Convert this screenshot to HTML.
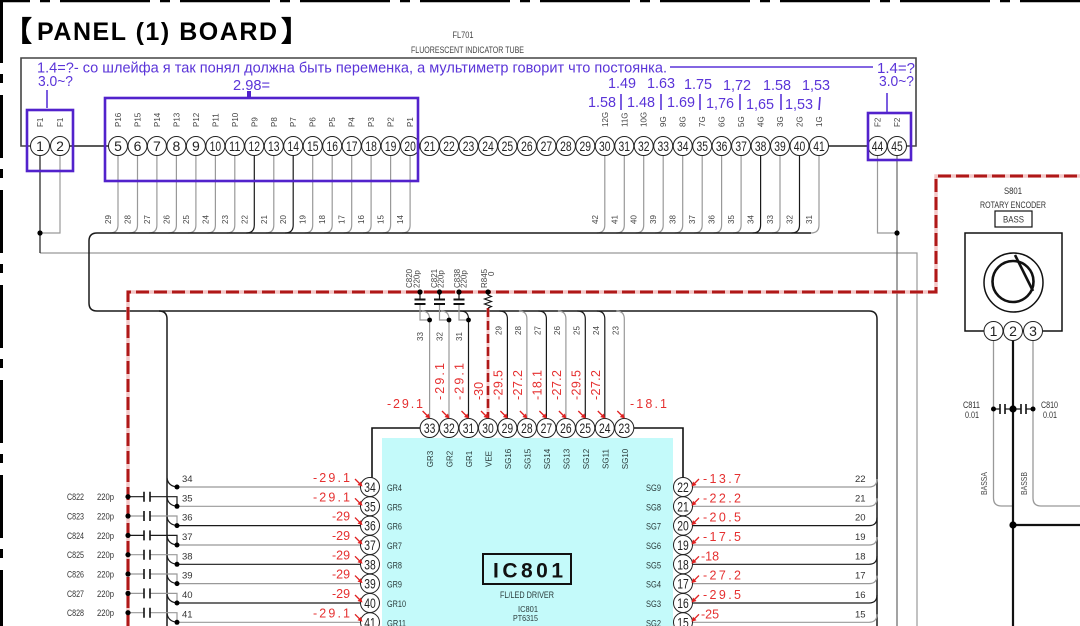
<!DOCTYPE html>
<html><head><meta charset="utf-8">
<style>
html,body{margin:0;padding:0;background:#fff;width:1080px;height:626px;overflow:hidden}
svg{display:block}
text{font-family:"Liberation Sans","DejaVu Sans",sans-serif}
.pn{font-size:14px;text-anchor:middle;fill:#222}
.lb{font-size:8px;fill:#444}
.lb9{font-size:9.5px;fill:#333}
.rd{font-family:"Liberation Mono","DejaVu Sans Mono",monospace;font-size:12.5px;fill:#e53030}
.pu{fill:#5a34d8;font-size:15px}
</style></head><body>
<svg width="1080" height="626" viewBox="0 0 1080 626" xmlns="http://www.w3.org/2000/svg">
<defs>
<g id="ar"><line x1="0" y1="0" x2="4.5" y2="4.5" stroke="#e02020" stroke-width="1.3"/><polygon points="7.5,7.5 2.5,6 6,2.5" fill="#e02020"/></g>
</defs>
<rect width="1080" height="626" fill="#fff"/>

<!-- borders -->
<line x1="1.5" y1="0" x2="1.5" y2="626" stroke="#000" stroke-width="3" stroke-dasharray="63 11 9 12"/>
<line x1="0" y1="1" x2="1080" y2="1" stroke="#000" stroke-width="2.5" stroke-dasharray="90 10 10 10" stroke-dashoffset="-60"/>

<!-- title -->
<text x="4" y="41" font-family="'Liberation Sans','Noto Sans CJK JP',sans-serif" font-size="28" font-weight="bold">【</text>
<text x="37" y="40" font-size="25" font-weight="bold" textLength="240" lengthAdjust="spacing">PANEL (1) BOARD</text>
<text x="281" y="41" font-family="'Liberation Sans','Noto Sans CJK JP',sans-serif" font-size="28" font-weight="bold">】</text>

<text x="463" y="38" font-size="9" fill="#444" text-anchor="middle" textLength="21" lengthAdjust="spacingAndGlyphs">FL701</text>
<text x="411" y="53" font-size="9" fill="#444" textLength="113" lengthAdjust="spacingAndGlyphs">FLUORESCENT INDICATOR TUBE</text>

<!-- tube box -->
<path d="M30.5 146 H21 V58 H916 V146 H906.5" fill="none" stroke="#444" stroke-width="1.6"/>
<line x1="69.5" y1="146" x2="108.5" y2="146" stroke="#222" stroke-width="1.4"/>
<line x1="828.5" y1="146" x2="868" y2="146" stroke="#222" stroke-width="1.4"/>

<!-- tube wires -->
<g fill="none" stroke="#999" stroke-width="1.2">
<path d="M118 155.5V225Q118 233 110 233"/>
<path d="M137.5 155.5V225Q137.5 233 129.5 233"/>
<path d="M156.9 155.5V225Q156.9 233 148.9 233"/>
<path d="M176.4 155.5V225Q176.4 233 168.4 233"/>
<path d="M195.9 155.5V225Q195.9 233 187.9 233"/>
<path d="M215.4 155.5V225Q215.4 233 207.4 233"/>
<path d="M234.8 155.5V225Q234.8 233 226.8 233"/>
<path d="M273.8 155.5V225Q273.8 233 265.8 233"/>
<path d="M312.7 155.5V225Q312.7 233 304.7 233"/>
<path d="M332.2 155.5V225Q332.2 233 324.2 233"/>
<path d="M351.7 155.5V225Q351.7 233 343.7 233"/>
<path d="M371.1 155.5V225Q371.1 233 363.1 233"/>
<path d="M390.6 155.5V225Q390.6 233 382.6 233"/>
<path d="M410.1 155.5V225Q410.1 233 402.1 233"/>
<path d="M604.8 155.5V225Q604.8 233 596.8 233"/>
<path d="M624.3 155.5V225Q624.3 233 616.3 233"/>
<path d="M643.7 155.5V225Q643.7 233 635.7 233"/>
<path d="M663.2 155.5V225Q663.2 233 655.2 233"/>
<path d="M682.7 155.5V225Q682.7 233 674.7 233"/>
<path d="M702.2 155.5V225Q702.2 233 694.2 233"/>
<path d="M721.6 155.5V225Q721.6 233 713.6 233"/>
<path d="M741.1 155.5V225Q741.1 233 733.1 233"/>
<path d="M780 155.5V225Q780 233 772 233"/>
<path d="M819 155.5V225Q819 233 811 233"/>
<path d="M60 155.5V233H40"/>
<path d="M40 253H917V626"/>
<path d="M877.5 155.5V233H897"/>
</g>
<g fill="none" stroke="#1a1a1a" stroke-width="1.2">
<path d="M254.3 155.5V225Q254.3 233 246.3 233"/>
<path d="M293.2 155.5V225Q293.2 233 285.2 233"/>
<path d="M760.6 155.5V225Q760.6 233 752.6 233"/>
<path d="M799.5 155.5V225Q799.5 233 791.5 233"/>
<path d="M40 155.5V253"/>
</g>
<line x1="897" y1="155.5" x2="897" y2="626" stroke="#666" stroke-width="1.2"/>
<!-- bus -->
<path d="M811 233H97Q89 233 89 241V303Q89 311 97 311H869Q877 311 877 319V626" fill="none" stroke="#1a1a1a" stroke-width="1.5"/>
<path d="M159 311Q167 311 167 319V626" fill="none" stroke="#1a1a1a" stroke-width="1.5"/>
<circle cx="40" cy="233" r="2.6" fill="#000"/>
<circle cx="897" cy="233" r="2.6" fill="#000"/>

<!-- wire labels under tube -->
<g class="lb">
<text transform="translate(111,224) rotate(-90)">29</text>
<text transform="translate(130.5,224) rotate(-90)">28</text>
<text transform="translate(149.9,224) rotate(-90)">27</text>
<text transform="translate(169.4,224) rotate(-90)">26</text>
<text transform="translate(188.9,224) rotate(-90)">25</text>
<text transform="translate(208.4,224) rotate(-90)">24</text>
<text transform="translate(227.8,224) rotate(-90)">23</text>
<text transform="translate(247.3,224) rotate(-90)">22</text>
<text transform="translate(266.8,224) rotate(-90)">21</text>
<text transform="translate(286.2,224) rotate(-90)">20</text>
<text transform="translate(305.7,224) rotate(-90)">19</text>
<text transform="translate(325.2,224) rotate(-90)">18</text>
<text transform="translate(344.7,224) rotate(-90)">17</text>
<text transform="translate(364.1,224) rotate(-90)">16</text>
<text transform="translate(383.6,224) rotate(-90)">15</text>
<text transform="translate(403.1,224) rotate(-90)">14</text>
<text transform="translate(597.8,224) rotate(-90)">42</text>
<text transform="translate(617.3,224) rotate(-90)">41</text>
<text transform="translate(636.7,224) rotate(-90)">40</text>
<text transform="translate(656.2,224) rotate(-90)">39</text>
<text transform="translate(675.7,224) rotate(-90)">38</text>
<text transform="translate(695.2,224) rotate(-90)">37</text>
<text transform="translate(714.6,224) rotate(-90)">36</text>
<text transform="translate(734.1,224) rotate(-90)">35</text>
<text transform="translate(753.6,224) rotate(-90)">34</text>
<text transform="translate(773,224) rotate(-90)">33</text>
<text transform="translate(792.5,224) rotate(-90)">32</text>
<text transform="translate(812,224) rotate(-90)">31</text>
</g>

<!-- tube pin labels -->
<g class="lb">
<text transform="translate(43,127) rotate(-90)">F1</text>
<text transform="translate(63,127) rotate(-90)">F1</text>
<text transform="translate(121,127) rotate(-90)">P16</text>
<text transform="translate(140.5,127) rotate(-90)">P15</text>
<text transform="translate(159.9,127) rotate(-90)">P14</text>
<text transform="translate(179.4,127) rotate(-90)">P13</text>
<text transform="translate(198.9,127) rotate(-90)">P12</text>
<text transform="translate(218.4,127) rotate(-90)">P11</text>
<text transform="translate(237.8,127) rotate(-90)">P10</text>
<text transform="translate(257.3,127) rotate(-90)">P9</text>
<text transform="translate(276.8,127) rotate(-90)">P8</text>
<text transform="translate(296.2,127) rotate(-90)">P7</text>
<text transform="translate(315.7,127) rotate(-90)">P6</text>
<text transform="translate(335.2,127) rotate(-90)">P5</text>
<text transform="translate(354.7,127) rotate(-90)">P4</text>
<text transform="translate(374.1,127) rotate(-90)">P3</text>
<text transform="translate(393.6,127) rotate(-90)">P2</text>
<text transform="translate(413.1,127) rotate(-90)">P1</text>
<text transform="translate(607.8,127) rotate(-90)">12G</text>
<text transform="translate(627.3,127) rotate(-90)">11G</text>
<text transform="translate(646.7,127) rotate(-90)">10G</text>
<text transform="translate(666.2,127) rotate(-90)">9G</text>
<text transform="translate(685.7,127) rotate(-90)">8G</text>
<text transform="translate(705.2,127) rotate(-90)">7G</text>
<text transform="translate(724.6,127) rotate(-90)">6G</text>
<text transform="translate(744.1,127) rotate(-90)">5G</text>
<text transform="translate(763.6,127) rotate(-90)">4G</text>
<text transform="translate(783,127) rotate(-90)">3G</text>
<text transform="translate(802.5,127) rotate(-90)">2G</text>
<text transform="translate(822,127) rotate(-90)">1G</text>
<text transform="translate(880.5,127) rotate(-90)">F2</text>
<text transform="translate(900,127) rotate(-90)">F2</text>
</g>

<!-- tube pins -->
<g fill="#fff" stroke="#222" stroke-width="1">
<circle cx="40" cy="146" r="9.5"/><circle cx="60" cy="146" r="9.5"/>
<circle cx="118" cy="146" r="9.5"/><circle cx="137.5" cy="146" r="9.5"/><circle cx="156.9" cy="146" r="9.5"/><circle cx="176.4" cy="146" r="9.5"/><circle cx="195.9" cy="146" r="9.5"/><circle cx="215.4" cy="146" r="9.5"/><circle cx="234.8" cy="146" r="9.5"/><circle cx="254.3" cy="146" r="9.5"/><circle cx="273.8" cy="146" r="9.5"/><circle cx="293.2" cy="146" r="9.5"/><circle cx="312.7" cy="146" r="9.5"/><circle cx="332.2" cy="146" r="9.5"/><circle cx="351.7" cy="146" r="9.5"/><circle cx="371.1" cy="146" r="9.5"/><circle cx="390.6" cy="146" r="9.5"/><circle cx="410.1" cy="146" r="9.5"/>
<circle cx="429.6" cy="146" r="9.5"/><circle cx="449" cy="146" r="9.5"/><circle cx="468.5" cy="146" r="9.5"/><circle cx="488" cy="146" r="9.5"/><circle cx="507.4" cy="146" r="9.5"/><circle cx="526.9" cy="146" r="9.5"/><circle cx="546.4" cy="146" r="9.5"/><circle cx="565.9" cy="146" r="9.5"/><circle cx="585.3" cy="146" r="9.5"/>
<circle cx="604.8" cy="146" r="9.5"/><circle cx="624.3" cy="146" r="9.5"/><circle cx="643.7" cy="146" r="9.5"/><circle cx="663.2" cy="146" r="9.5"/><circle cx="682.7" cy="146" r="9.5"/><circle cx="702.2" cy="146" r="9.5"/><circle cx="721.6" cy="146" r="9.5"/><circle cx="741.1" cy="146" r="9.5"/><circle cx="760.6" cy="146" r="9.5"/><circle cx="780" cy="146" r="9.5"/><circle cx="799.5" cy="146" r="9.5"/><circle cx="819" cy="146" r="9.5"/>
<circle cx="877.5" cy="146" r="9.5"/><circle cx="897" cy="146" r="9.5"/>
</g>
<g class="pn">
<text x="40" y="151">1</text><text x="60" y="151">2</text>
<text x="118" y="151">5</text><text x="137.5" y="151">6</text><text x="156.9" y="151">7</text><text x="176.4" y="151">8</text><text x="195.9" y="151">9</text>
<text x="215.4" y="151" textLength="11.5" lengthAdjust="spacingAndGlyphs">10</text>
<text x="234.8" y="151" textLength="11.5" lengthAdjust="spacingAndGlyphs">11</text>
<text x="254.3" y="151" textLength="11.5" lengthAdjust="spacingAndGlyphs">12</text>
<text x="273.8" y="151" textLength="11.5" lengthAdjust="spacingAndGlyphs">13</text>
<text x="293.2" y="151" textLength="11.5" lengthAdjust="spacingAndGlyphs">14</text>
<text x="312.7" y="151" textLength="11.5" lengthAdjust="spacingAndGlyphs">15</text>
<text x="332.2" y="151" textLength="11.5" lengthAdjust="spacingAndGlyphs">16</text>
<text x="351.7" y="151" textLength="11.5" lengthAdjust="spacingAndGlyphs">17</text>
<text x="371.1" y="151" textLength="11.5" lengthAdjust="spacingAndGlyphs">18</text>
<text x="390.6" y="151" textLength="11.5" lengthAdjust="spacingAndGlyphs">19</text>
<text x="410.1" y="151" textLength="11.5" lengthAdjust="spacingAndGlyphs">20</text>
<text x="429.6" y="151" textLength="11.5" lengthAdjust="spacingAndGlyphs">21</text>
<text x="449" y="151" textLength="11.5" lengthAdjust="spacingAndGlyphs">22</text>
<text x="468.5" y="151" textLength="11.5" lengthAdjust="spacingAndGlyphs">23</text>
<text x="488" y="151" textLength="11.5" lengthAdjust="spacingAndGlyphs">24</text>
<text x="507.4" y="151" textLength="11.5" lengthAdjust="spacingAndGlyphs">25</text>
<text x="526.9" y="151" textLength="11.5" lengthAdjust="spacingAndGlyphs">26</text>
<text x="546.4" y="151" textLength="11.5" lengthAdjust="spacingAndGlyphs">27</text>
<text x="565.9" y="151" textLength="11.5" lengthAdjust="spacingAndGlyphs">28</text>
<text x="585.3" y="151" textLength="11.5" lengthAdjust="spacingAndGlyphs">29</text>
<text x="604.8" y="151" textLength="11.5" lengthAdjust="spacingAndGlyphs">30</text>
<text x="624.3" y="151" textLength="11.5" lengthAdjust="spacingAndGlyphs">31</text>
<text x="643.7" y="151" textLength="11.5" lengthAdjust="spacingAndGlyphs">32</text>
<text x="663.2" y="151" textLength="11.5" lengthAdjust="spacingAndGlyphs">33</text>
<text x="682.7" y="151" textLength="11.5" lengthAdjust="spacingAndGlyphs">34</text>
<text x="702.2" y="151" textLength="11.5" lengthAdjust="spacingAndGlyphs">35</text>
<text x="721.6" y="151" textLength="11.5" lengthAdjust="spacingAndGlyphs">36</text>
<text x="741.1" y="151" textLength="11.5" lengthAdjust="spacingAndGlyphs">37</text>
<text x="760.6" y="151" textLength="11.5" lengthAdjust="spacingAndGlyphs">38</text>
<text x="780" y="151" textLength="11.5" lengthAdjust="spacingAndGlyphs">39</text>
<text x="799.5" y="151" textLength="11.5" lengthAdjust="spacingAndGlyphs">40</text>
<text x="819" y="151" textLength="11.5" lengthAdjust="spacingAndGlyphs">41</text>
<text x="877.5" y="151" textLength="11.5" lengthAdjust="spacingAndGlyphs">44</text>
<text x="897" y="151" textLength="11.5" lengthAdjust="spacingAndGlyphs">45</text>
</g>

<!-- red dashed line -->
<path d="M128 626V292H936V176H1080" fill="none" stroke="#f4c8c8" stroke-width="3.5"/>
<path d="M128 626V292H936V176H1080" fill="none" stroke="#b01818" stroke-width="3" stroke-dasharray="13 5"/>
<path d="M488 308V418.5" fill="none" stroke="#f4c8c8" stroke-width="3"/>
<path d="M488 308V418.5" fill="none" stroke="#b01818" stroke-width="2.6" stroke-dasharray="9 4"/>

<!-- IC body -->
<rect x="382" y="438" width="291" height="200" fill="#c4fafa"/>
<path d="M372 477.5V428H420.1" fill="none" stroke="#111" stroke-width="1.6"/>
<path d="M633.8 428H683V477.5" fill="none" stroke="#111" stroke-width="1.6"/>

<!-- IC top wires -->
<g fill="none" stroke="#999" stroke-width="1.2">
<path d="M421.6 311Q429.6 311 429.6 319V418.5"/>
<path d="M441 311Q449 311 449 319V418.5"/>
<path d="M518.9 311Q526.9 311 526.9 319V418.5"/>
<path d="M557.9 311Q565.9 311 565.9 319V418.5"/>
<path d="M616.3 311Q624.3 311 624.3 319V418.5"/>
<path d="M420 304.5V320H429.6"/>
<path d="M439.5 304.5V320H449"/>
<path d="M459 304.5V320H468.5"/>
</g>
<g fill="none" stroke="#1a1a1a" stroke-width="1.2">
<path d="M460.5 311Q468.5 311 468.5 319V418.5"/>
<path d="M499.4 311Q507.4 311 507.4 319V418.5"/>
<path d="M538.4 311Q546.4 311 546.4 319V418.5"/>
<path d="M577.3 311Q585.3 311 585.3 319V418.5"/>
<path d="M596.8 311Q604.8 311 604.8 319V418.5"/>
</g>
<!-- top caps -->
<g stroke="#111" stroke-width="1.2">
<line x1="420" y1="292" x2="420" y2="299"/><line x1="439.5" y1="292" x2="439.5" y2="299"/><line x1="459" y1="292" x2="459" y2="299"/>
</g>
<g stroke="#111" stroke-width="2">
<line x1="414.5" y1="299.5" x2="425.5" y2="299.5"/><line x1="414.5" y1="304" x2="425.5" y2="304"/>
<line x1="434" y1="299.5" x2="445" y2="299.5"/><line x1="434" y1="304" x2="445" y2="304"/>
<line x1="453.5" y1="299.5" x2="464.5" y2="299.5"/><line x1="453.5" y1="304" x2="464.5" y2="304"/>
</g>
<path d="M488 292V295L491.5 296.5L484.5 299L491.5 301.5L484.5 304L491.5 306.5L488 308" fill="none" stroke="#111" stroke-width="1.1"/>
<g fill="#000">
<circle cx="420" cy="292" r="2.6"/><circle cx="439.5" cy="292" r="2.6"/><circle cx="459" cy="292" r="2.6"/><circle cx="488" cy="292" r="2.6"/>
<circle cx="429.6" cy="320" r="2.4"/><circle cx="449" cy="320" r="2.4"/><circle cx="468.5" cy="320" r="2.4"/>
</g>
<g class="lb">
<text transform="translate(412,288) rotate(-90)">C820</text>
<text transform="translate(419.5,288) rotate(-90)">220p</text>
<text transform="translate(437,288) rotate(-90)">C821</text>
<text transform="translate(443.5,288) rotate(-90)">220p</text>
<text transform="translate(460,288) rotate(-90)">C838</text>
<text transform="translate(466.5,288) rotate(-90)">220p</text>
<text transform="translate(487,288) rotate(-90)">R845</text>
<text transform="translate(494,276) rotate(-90)">0</text>
<text transform="translate(423,341) rotate(-90)">33</text>
<text transform="translate(442.5,341) rotate(-90)">32</text>
<text transform="translate(462,341) rotate(-90)">31</text>
<text transform="translate(501.4,335) rotate(-90)">29</text>
<text transform="translate(520.9,335) rotate(-90)">28</text>
<text transform="translate(540.4,335) rotate(-90)">27</text>
<text transform="translate(559.9,335) rotate(-90)">26</text>
<text transform="translate(579.3,335) rotate(-90)">25</text>
<text transform="translate(598.8,335) rotate(-90)">24</text>
<text transform="translate(618.3,335) rotate(-90)">23</text>
</g>

<!-- left IC wires & caps -->
<g fill="none" stroke="#999" stroke-width="1.2">
<path d="M177 487H360.5"/><path d="M177 506.3H360.5"/><path d="M177 545H360.5"/><path d="M177 583.6H360.5"/><path d="M177 622.3H360.5"/>
<path d="M128 516H144M150 516H177V525.6"/>
<path d="M128 554.7H144M150 554.7H177V564.3"/>
<path d="M128 574H144M150 574H177V583.6"/>
<path d="M128 593.4H144M150 593.4H177V603"/>
<path d="M128 612.7H144M150 612.7H177V622.3"/>
</g>
<g fill="none" stroke="#1a1a1a" stroke-width="1.2">
<path d="M177 525.6H360.5"/><path d="M177 564.3H360.5"/><path d="M177 603H360.5"/>
<path d="M128 496.7H144M150 496.7H177V506.3"/>
<path d="M128 535.4H144M150 535.4H177V545"/>
<path d="M167 478Q168 486 177 487"/><path d="M167 497.3Q168 505.3 177 506.3"/><path d="M167 516.6Q168 524.6 177 525.6"/><path d="M167 536Q168 544 177 545"/><path d="M167 555.3Q168 563.3 177 564.3"/><path d="M167 574.6Q168 582.6 177 583.6"/><path d="M167 594Q168 602 177 603"/><path d="M167 613.3Q168 621.3 177 622.3"/>
</g>
<g stroke="#111" stroke-width="1.6">
<path d="M144 491.7V501.7M150 491.7V501.7"/>
<path d="M144 511V521M150 511V521"/>
<path d="M144 530.4V540.4M150 530.4V540.4"/>
<path d="M144 549.7V559.7M150 549.7V559.7"/>
<path d="M144 569V579M150 569V579"/>
<path d="M144 588.4V598.4M150 588.4V598.4"/>
<path d="M144 607.7V617.7M150 607.7V617.7"/>
</g>
<g fill="#000">
<circle cx="177" cy="487" r="2.5"/><circle cx="177" cy="506.3" r="2.5"/><circle cx="177" cy="525.6" r="2.5"/><circle cx="177" cy="545" r="2.5"/><circle cx="177" cy="564.3" r="2.5"/><circle cx="177" cy="583.6" r="2.5"/><circle cx="177" cy="603" r="2.5"/><circle cx="177" cy="622.3" r="2.5"/>
<circle cx="128" cy="496.7" r="2.6"/><circle cx="128" cy="516" r="2.6"/><circle cx="128" cy="535.4" r="2.6"/><circle cx="128" cy="554.7" r="2.6"/><circle cx="128" cy="574" r="2.6"/><circle cx="128" cy="593.4" r="2.6"/><circle cx="128" cy="612.7" r="2.6"/>
</g>
<g class="lb9">
<text x="182" y="482">34</text><text x="182" y="501.3">35</text><text x="182" y="520.6">36</text><text x="182" y="540">37</text><text x="182" y="559.3">38</text><text x="182" y="578.6">39</text><text x="182" y="598">40</text><text x="182" y="617.3">41</text>
<text x="67" y="500.2" textLength="17" lengthAdjust="spacingAndGlyphs">C822</text><text x="97" y="500.2" textLength="17" lengthAdjust="spacingAndGlyphs">220p</text>
<text x="67" y="519.5" textLength="17" lengthAdjust="spacingAndGlyphs">C823</text><text x="97" y="519.5" textLength="17" lengthAdjust="spacingAndGlyphs">220p</text>
<text x="67" y="538.9" textLength="17" lengthAdjust="spacingAndGlyphs">C824</text><text x="97" y="538.9" textLength="17" lengthAdjust="spacingAndGlyphs">220p</text>
<text x="67" y="558.2" textLength="17" lengthAdjust="spacingAndGlyphs">C825</text><text x="97" y="558.2" textLength="17" lengthAdjust="spacingAndGlyphs">220p</text>
<text x="67" y="577.5" textLength="17" lengthAdjust="spacingAndGlyphs">C826</text><text x="97" y="577.5" textLength="17" lengthAdjust="spacingAndGlyphs">220p</text>
<text x="67" y="596.9" textLength="17" lengthAdjust="spacingAndGlyphs">C827</text><text x="97" y="596.9" textLength="17" lengthAdjust="spacingAndGlyphs">220p</text>
<text x="67" y="616.2" textLength="17" lengthAdjust="spacingAndGlyphs">C828</text><text x="97" y="616.2" textLength="17" lengthAdjust="spacingAndGlyphs">220p</text>
</g>

<!-- right IC wires -->
<g fill="none" stroke="#999" stroke-width="1.2">
<path d="M692.5 487H869Q877 487 877 479"/><path d="M692.5 506.3H869Q877 506.3 877 498.3"/><path d="M692.5 545H869Q877 545 877 537"/><path d="M692.5 583.6H869Q877 583.6 877 575.6"/><path d="M692.5 622.3H869Q877 622.3 877 614.3"/>
</g>
<g fill="none" stroke="#1a1a1a" stroke-width="1.2">
<path d="M692.5 525.6H869Q877 525.6 877 517.6"/><path d="M692.5 564.3H869Q877 564.3 877 556.3"/><path d="M692.5 603H869Q877 603 877 595"/>
</g>
<g class="lb9">
<text x="855" y="482">22</text><text x="855" y="501.3">21</text><text x="855" y="520.6">20</text><text x="855" y="540">19</text><text x="855" y="559.3">18</text><text x="855" y="578.6">17</text><text x="855" y="598">16</text><text x="855" y="617.3">15</text>
</g>

<!-- IC pins -->
<g fill="#fff" stroke="#222" stroke-width="1">
<circle cx="429.6" cy="428" r="9.5"/><circle cx="449" cy="428" r="9.5"/><circle cx="468.5" cy="428" r="9.5"/><circle cx="488" cy="428" r="9.5"/><circle cx="507.4" cy="428" r="9.5"/><circle cx="526.9" cy="428" r="9.5"/><circle cx="546.4" cy="428" r="9.5"/><circle cx="565.9" cy="428" r="9.5"/><circle cx="585.3" cy="428" r="9.5"/><circle cx="604.8" cy="428" r="9.5"/><circle cx="624.3" cy="428" r="9.5"/>
<circle cx="370" cy="487" r="9.5"/><circle cx="370" cy="506.3" r="9.5"/><circle cx="370" cy="525.6" r="9.5"/><circle cx="370" cy="545" r="9.5"/><circle cx="370" cy="564.3" r="9.5"/><circle cx="370" cy="583.6" r="9.5"/><circle cx="370" cy="603" r="9.5"/><circle cx="370" cy="622.3" r="9.5"/>
<circle cx="683" cy="487" r="9.5"/><circle cx="683" cy="506.3" r="9.5"/><circle cx="683" cy="525.6" r="9.5"/><circle cx="683" cy="545" r="9.5"/><circle cx="683" cy="564.3" r="9.5"/><circle cx="683" cy="583.6" r="9.5"/><circle cx="683" cy="603" r="9.5"/><circle cx="683" cy="622.3" r="9.5"/>
</g>
<g class="pn">
<text x="429.6" y="433" textLength="11.5" lengthAdjust="spacingAndGlyphs">33</text>
<text x="449" y="433" textLength="11.5" lengthAdjust="spacingAndGlyphs">32</text>
<text x="468.5" y="433" textLength="11.5" lengthAdjust="spacingAndGlyphs">31</text>
<text x="488" y="433" textLength="11.5" lengthAdjust="spacingAndGlyphs">30</text>
<text x="507.4" y="433" textLength="11.5" lengthAdjust="spacingAndGlyphs">29</text>
<text x="526.9" y="433" textLength="11.5" lengthAdjust="spacingAndGlyphs">28</text>
<text x="546.4" y="433" textLength="11.5" lengthAdjust="spacingAndGlyphs">27</text>
<text x="565.9" y="433" textLength="11.5" lengthAdjust="spacingAndGlyphs">26</text>
<text x="585.3" y="433" textLength="11.5" lengthAdjust="spacingAndGlyphs">25</text>
<text x="604.8" y="433" textLength="11.5" lengthAdjust="spacingAndGlyphs">24</text>
<text x="624.3" y="433" textLength="11.5" lengthAdjust="spacingAndGlyphs">23</text>
<text x="370" y="492" textLength="11.5" lengthAdjust="spacingAndGlyphs">34</text>
<text x="370" y="511.3" textLength="11.5" lengthAdjust="spacingAndGlyphs">35</text>
<text x="370" y="530.6" textLength="11.5" lengthAdjust="spacingAndGlyphs">36</text>
<text x="370" y="550" textLength="11.5" lengthAdjust="spacingAndGlyphs">37</text>
<text x="370" y="569.3" textLength="11.5" lengthAdjust="spacingAndGlyphs">38</text>
<text x="370" y="588.6" textLength="11.5" lengthAdjust="spacingAndGlyphs">39</text>
<text x="370" y="608" textLength="11.5" lengthAdjust="spacingAndGlyphs">40</text>
<text x="370" y="627.3" textLength="11.5" lengthAdjust="spacingAndGlyphs">41</text>
<text x="683" y="492" textLength="11.5" lengthAdjust="spacingAndGlyphs">22</text>
<text x="683" y="511.3" textLength="11.5" lengthAdjust="spacingAndGlyphs">21</text>
<text x="683" y="530.6" textLength="11.5" lengthAdjust="spacingAndGlyphs">20</text>
<text x="683" y="550" textLength="11.5" lengthAdjust="spacingAndGlyphs">19</text>
<text x="683" y="569.3" textLength="11.5" lengthAdjust="spacingAndGlyphs">18</text>
<text x="683" y="588.6" textLength="11.5" lengthAdjust="spacingAndGlyphs">17</text>
<text x="683" y="608" textLength="11.5" lengthAdjust="spacingAndGlyphs">16</text>
<text x="683" y="627.3" textLength="11.5" lengthAdjust="spacingAndGlyphs">15</text>
</g>

<!-- IC inner labels -->
<g font-size="9" fill="#2a3a3a">
<text x="387" y="491" textLength="15" lengthAdjust="spacingAndGlyphs">GR4</text>
<text x="387" y="510.3" textLength="15" lengthAdjust="spacingAndGlyphs">GR5</text>
<text x="387" y="529.6" textLength="15" lengthAdjust="spacingAndGlyphs">GR6</text>
<text x="387" y="549" textLength="15" lengthAdjust="spacingAndGlyphs">GR7</text>
<text x="387" y="568.3" textLength="15" lengthAdjust="spacingAndGlyphs">GR8</text>
<text x="387" y="587.6" textLength="15" lengthAdjust="spacingAndGlyphs">GR9</text>
<text x="387" y="607" textLength="19" lengthAdjust="spacingAndGlyphs">GR10</text>
<text x="387" y="626.3" textLength="19" lengthAdjust="spacingAndGlyphs">GR11</text>
<text x="646" y="491" textLength="15" lengthAdjust="spacingAndGlyphs">SG9</text>
<text x="646" y="510.3" textLength="15" lengthAdjust="spacingAndGlyphs">SG8</text>
<text x="646" y="529.6" textLength="15" lengthAdjust="spacingAndGlyphs">SG7</text>
<text x="646" y="549" textLength="15" lengthAdjust="spacingAndGlyphs">SG6</text>
<text x="646" y="568.3" textLength="15" lengthAdjust="spacingAndGlyphs">SG5</text>
<text x="646" y="587.6" textLength="15" lengthAdjust="spacingAndGlyphs">SG4</text>
<text x="646" y="607" textLength="15" lengthAdjust="spacingAndGlyphs">SG3</text>
<text x="646" y="626.3" textLength="15" lengthAdjust="spacingAndGlyphs">SG2</text>
</g>
<g font-size="8" fill="#2a3a3a" text-anchor="middle">
<text transform="translate(433.1,459) rotate(-90)">GR3</text>
<text transform="translate(452.5,459) rotate(-90)">GR2</text>
<text transform="translate(472,459) rotate(-90)">GR1</text>
<text transform="translate(491.5,459) rotate(-90)">VEE</text>
<text transform="translate(510.9,459) rotate(-90)">SG16</text>
<text transform="translate(530.4,459) rotate(-90)">SG15</text>
<text transform="translate(549.9,459) rotate(-90)">SG14</text>
<text transform="translate(569.4,459) rotate(-90)">SG13</text>
<text transform="translate(588.8,459) rotate(-90)">SG12</text>
<text transform="translate(608.3,459) rotate(-90)">SG11</text>
<text transform="translate(627.8,459) rotate(-90)">SG10</text>
</g>
<rect x="483" y="554" width="88" height="30" fill="none" stroke="#111" stroke-width="2"/>
<text x="493" y="577.5" font-size="21" font-weight="bold" fill="#111" textLength="70" lengthAdjust="spacing">IC801</text>
<text x="500" y="598" font-size="9" fill="#2a3a3a" textLength="54" lengthAdjust="spacingAndGlyphs">FL/LED DRIVER</text>
<text x="518" y="612" font-size="8.5" fill="#2a3a3a" textLength="20" lengthAdjust="spacingAndGlyphs">IC801</text>
<text x="513" y="621" font-size="8.5" fill="#2a3a3a" textLength="25" lengthAdjust="spacingAndGlyphs">PT6315</text>

<!-- red voltage labels -->
<g class="rd">
<text x="387" y="408" textLength="36" lengthAdjust="spacing">-29.1</text>
<text x="630" y="408" textLength="37" lengthAdjust="spacing">-18.1</text>
<text transform="translate(444,400) rotate(-90)" textLength="37" lengthAdjust="spacing">-29.1</text>
<text transform="translate(463.5,400) rotate(-90)" textLength="37" lengthAdjust="spacing">-29.1</text>
<text transform="translate(483,400) rotate(-90)">-30</text>
<text transform="translate(502.4,400) rotate(-90)" textLength="30" lengthAdjust="spacing">-29.5</text>
<text transform="translate(521.9,400) rotate(-90)" textLength="30" lengthAdjust="spacing">-27.2</text>
<text transform="translate(541.4,400) rotate(-90)" textLength="30" lengthAdjust="spacing">-18.1</text>
<text transform="translate(560.9,400) rotate(-90)" textLength="30" lengthAdjust="spacing">-27.2</text>
<text transform="translate(580.3,400) rotate(-90)" textLength="30" lengthAdjust="spacing">-29.5</text>
<text transform="translate(599.8,400) rotate(-90)" textLength="30" lengthAdjust="spacing">-27.2</text>
<text x="313" y="482" textLength="37" lengthAdjust="spacing">-29.1</text>
<text x="313" y="501.3" textLength="37" lengthAdjust="spacing">-29.1</text>
<text x="332" y="520.6">-29</text>
<text x="332" y="540">-29</text>
<text x="332" y="559.3">-29</text>
<text x="332" y="578.6">-29</text>
<text x="332" y="598">-29</text>
<text x="313" y="617.3" textLength="37" lengthAdjust="spacing">-29.1</text>
<text x="703" y="483" textLength="38" lengthAdjust="spacing">-13.7</text>
<text x="703" y="502.3" textLength="38" lengthAdjust="spacing">-22.2</text>
<text x="703" y="521.6" textLength="38" lengthAdjust="spacing">-20.5</text>
<text x="703" y="541" textLength="38" lengthAdjust="spacing">-17.5</text>
<text x="701" y="560.3">-18</text>
<text x="703" y="579.6" textLength="38" lengthAdjust="spacing">-27.2</text>
<text x="703" y="599" textLength="38" lengthAdjust="spacing">-29.5</text>
<text x="701" y="618.3">-25</text>
</g>
<!-- red arrows -->
<use href="#ar" x="422.6" y="411"/><use href="#ar" x="442" y="411"/><use href="#ar" x="461.5" y="411"/><use href="#ar" x="481" y="411"/><use href="#ar" x="500.4" y="411"/><use href="#ar" x="519.9" y="411"/><use href="#ar" x="539.4" y="411"/><use href="#ar" x="558.9" y="411"/><use href="#ar" x="578.3" y="411"/><use href="#ar" x="597.8" y="411"/><use href="#ar" x="617.3" y="411"/>
<use href="#ar" x="355" y="479"/><use href="#ar" x="355" y="498.3"/><use href="#ar" x="355" y="517.6"/><use href="#ar" x="355" y="537"/><use href="#ar" x="355" y="556.3"/><use href="#ar" x="355" y="575.6"/><use href="#ar" x="355" y="595"/><use href="#ar" x="355" y="614.3"/>
<g transform="translate(1391,0) scale(-1,1)">
<use href="#ar" x="692" y="479"/><use href="#ar" x="692" y="498.3"/><use href="#ar" x="692" y="517.6"/><use href="#ar" x="692" y="537"/><use href="#ar" x="692" y="556.3"/><use href="#ar" x="692" y="575.6"/><use href="#ar" x="692" y="595"/><use href="#ar" x="692" y="614.3"/>
</g>

<!-- rotary encoder -->
<text x="1013" y="194" font-size="9" fill="#333" text-anchor="middle" textLength="18" lengthAdjust="spacingAndGlyphs">S801</text>
<text x="980" y="208" font-size="9" fill="#333" textLength="66" lengthAdjust="spacingAndGlyphs">ROTARY ENCODER</text>
<rect x="995" y="211" width="37" height="16" fill="none" stroke="#111" stroke-width="1.2"/>
<text x="1013.5" y="222.5" font-size="9" fill="#333" text-anchor="middle" textLength="21" lengthAdjust="spacingAndGlyphs">BASS</text>
<rect x="965" y="233" width="97" height="98" fill="none" stroke="#111" stroke-width="1.5"/>
<circle cx="1013.5" cy="282.5" r="29.5" fill="none" stroke="#111" stroke-width="1.5"/>
<circle cx="1013" cy="281.5" r="20.5" fill="none" stroke="#111" stroke-width="2.6"/>
<line x1="1015" y1="255" x2="1033" y2="291" stroke="#111" stroke-width="2.6"/>
<g fill="none" stroke="#999" stroke-width="1.3">
<path d="M993.5 340.5V498Q993.5 506 1001.5 506H1013"/>
<path d="M1033 340.5V498Q1033 506 1041 506H1080"/>
</g>
<path d="M1013 340.5V626M1013 525H1080" fill="none" stroke="#111" stroke-width="2.2"/>
<g stroke="#111" stroke-width="1.2">
<line x1="993.5" y1="409" x2="1000" y2="409"/><line x1="1005" y1="409" x2="1021" y2="409"/><line x1="1026" y1="409" x2="1033" y2="409"/>
</g>
<g stroke="#111" stroke-width="1.6">
<path d="M1000 404V414M1005 404V414M1021 404V414M1026 404V414"/>
</g>
<g fill="#000">
<circle cx="993.5" cy="409" r="2.5"/><circle cx="1033" cy="409" r="2.5"/><circle cx="1013" cy="409" r="3.6"/><circle cx="1013" cy="525" r="3.6"/>
</g>
<g fill="#fff" stroke="#222" stroke-width="1">
<circle cx="993.5" cy="331" r="9.5"/><circle cx="1013" cy="331" r="9.5"/><circle cx="1033" cy="331" r="9.5"/>
</g>
<g class="pn"><text x="993.5" y="336">1</text><text x="1013" y="336">2</text><text x="1033" y="336">3</text></g>
<g font-size="9" fill="#333">
<text x="963" y="408" textLength="17" lengthAdjust="spacingAndGlyphs">C811</text>
<text x="965" y="418" textLength="14" lengthAdjust="spacingAndGlyphs">0.01</text>
<text x="1041" y="408" textLength="17" lengthAdjust="spacingAndGlyphs">C810</text>
<text x="1043" y="418" textLength="14" lengthAdjust="spacingAndGlyphs">0.01</text>
</g>
<g class="lb">
<text transform="translate(987,495) rotate(-90)" textLength="23" lengthAdjust="spacingAndGlyphs">BASSA</text>
<text transform="translate(1027,495) rotate(-90)" textLength="23" lengthAdjust="spacingAndGlyphs">BASSB</text>
</g>

<!-- purple annotations -->
<g fill="none" stroke="#5222cc" stroke-width="2.6">
<rect x="27" y="110" width="46" height="61"/>
<rect x="105" y="98" width="313" height="83"/>
<rect x="868" y="113" width="43" height="47"/>
</g>
<g stroke="#5a34d8" stroke-width="1.6">
<line x1="47" y1="90" x2="47" y2="108"/>
<line x1="887" y1="93" x2="887" y2="112"/>
<line x1="670" y1="67" x2="873" y2="67"/>
<line x1="621" y1="94" x2="621" y2="110"/>
<line x1="661" y1="94" x2="661" y2="110"/>
<line x1="700" y1="94" x2="700" y2="110"/>
<line x1="740" y1="94" x2="740" y2="110"/>
<line x1="781" y1="94" x2="781" y2="110"/>
<line x1="820" y1="97" x2="819" y2="110"/>
</g>
<rect x="247" y="91" width="4" height="7" fill="#5222cc"/>
<g class="pu">
<text x="37" y="72.5" textLength="630" lengthAdjust="spacingAndGlyphs">1.4=?- со шлейфа я так понял должна быть переменка, а мультиметр говорит что постоянка.</text>
<text x="38" y="86" textLength="35" lengthAdjust="spacingAndGlyphs">3.0~?</text>
<text x="233" y="90" textLength="37" lengthAdjust="spacingAndGlyphs">2.98=</text>
<text x="877" y="73" textLength="38" lengthAdjust="spacingAndGlyphs">1.4=?</text>
<text x="879" y="86" textLength="35" lengthAdjust="spacingAndGlyphs">3.0~?</text>
<text x="608" y="88" textLength="28" lengthAdjust="spacingAndGlyphs">1.49</text>
<text x="647" y="88" textLength="28" lengthAdjust="spacingAndGlyphs">1.63</text>
<text x="684" y="89" textLength="28" lengthAdjust="spacingAndGlyphs">1.75</text>
<text x="723" y="90" textLength="28" lengthAdjust="spacingAndGlyphs">1,72</text>
<text x="763" y="90" textLength="28" lengthAdjust="spacingAndGlyphs">1.58</text>
<text x="802" y="90" textLength="28" lengthAdjust="spacingAndGlyphs">1,53</text>
<text x="588" y="107" textLength="28" lengthAdjust="spacingAndGlyphs">1.58</text>
<text x="627" y="107" textLength="28" lengthAdjust="spacingAndGlyphs">1.48</text>
<text x="667" y="107" textLength="28" lengthAdjust="spacingAndGlyphs">1.69</text>
<text x="706" y="108" textLength="28" lengthAdjust="spacingAndGlyphs">1,76</text>
<text x="746" y="109" textLength="28" lengthAdjust="spacingAndGlyphs">1,65</text>
<text x="785" y="109" textLength="28" lengthAdjust="spacingAndGlyphs">1,53</text>
</g>
</svg>
</body></html>
